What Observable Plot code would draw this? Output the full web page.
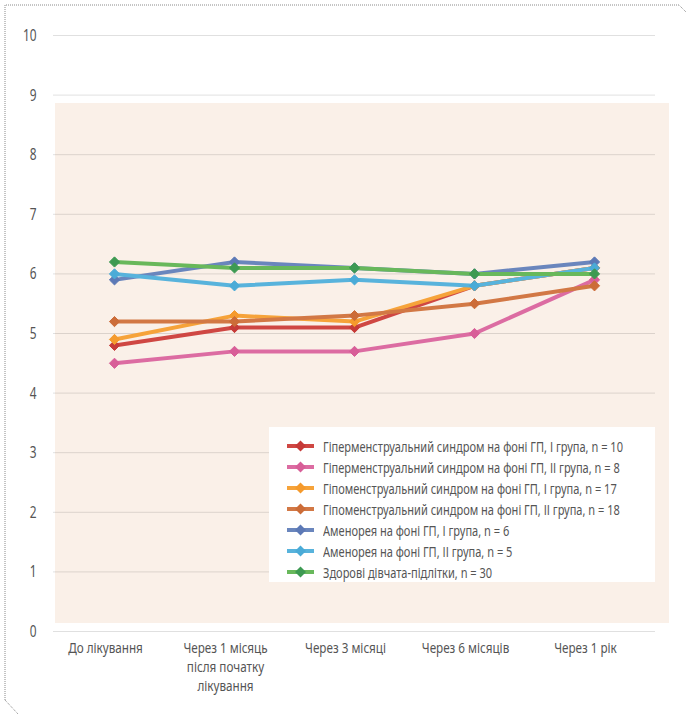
<!DOCTYPE html>
<html>
<head>
<meta charset="utf-8">
<script src="https://cdn.jsdelivr.net/npm/d3@7"></script>
<script src="https://cdn.jsdelivr.net/npm/@observablehq/plot@0.6"></script>
<style>
  html, body { margin: 0; padding: 0; background: #fff; }
  #wrap { position: relative; width: 686px; height: 714px; overflow: hidden;
          font-family: "Noto Sans", sans-serif; }
  #plotArea { position: absolute; left: 55px; top: 103px; width: 614px; height: 520px; background: #faf0e8; }
  #chart { position: absolute; left: 0; top: 0; }
  #frame { position: absolute; left: 0; top: 0; pointer-events: none; }
  #legend { position: absolute; left: 269px; top: 427px; width: 386px; height: 155px; background: #fff; }
  .row { position: absolute; left: 18px; height: 21px; display: flex; align-items: center;
         font-size: 14.5px; color: #555; white-space: nowrap; }
  .row svg { margin-right: 9px; flex: none; }
  .row span { display: inline-block; transform-origin: 0 50%; }
</style>
</head>
<body>
<div id="wrap">
  <div id="plotArea"></div>
  <div id="chart"></div>
  <div id="legend"></div>
  <svg id="frame" width="686" height="714">
    <path d="M5,700 V5 H679 L686,12 M5,700 L18,714" fill="none" stroke="#8a8a8a" stroke-width="1" stroke-dasharray="1,1"/>
  </svg>
</div>
<script>
// Time points of the observation
const categories = ["До лікування", "Через 1 місяць після початку лікування", "Через 3 місяці", "Через 6 місяців", "Через 1 рік"];
const tickLabels = ["До лікування", "Через 1 місяць\nпісля початку\nлікування", "Через 3 місяці", "Через 6 місяців", "Через 1 рік"];
const yTicks = [0, 1, 2, 3, 4, 5, 6, 7, 8, 9, 10];

// Groups of patients
const seriesNames = [
  "Гіперменструальний синдром на фоні ГП, І група, n = 10",
  "Гіперменструальний синдром на фоні ГП, ІІ група, n = 8",
  "Гіпоменструальний синдром на фоні ГП, І група, n = 17",
  "Гіпоменструальний синдром на фоні ГП, ІІ група, n = 18",
  "Аменорея на фоні ГП, І група, n = 6",
  "Аменорея на фоні ГП, ІІ група, n = 5",
  "Здорові дівчата-підлітки, n = 30"
];

// Values per group at each time point
const hyperI   = [4.8, 5.1, 5.1, 5.8, 6.1];
const hyperII  = [4.5, 4.7, 4.7, 5.0, 5.9];
const hypoI    = [4.9, 5.3, 5.2, 5.8, 6.1];
const hypoII   = [5.2, 5.2, 5.3, 5.5, 5.8];
const amenI    = [5.9, 6.2, 6.1, 6.0, 6.2];
const amenII   = [6.0, 5.8, 5.9, 5.8, 6.1];
const healthy  = [6.2, 6.1, 6.1, 6.0, 6.0];
const seriesValues = [hyperI, hyperII, hypoI, hypoII, amenI, amenII, healthy];

const lineColors   = ["#cf4743", "#dc6ca2", "#f6a33a", "#d27845", "#6a86bd", "#58b3dc", "#68b85b"];
const markerColors = ["#c63a38", "#d85e98", "#f59a2c", "#cc6c38", "#5c79b6", "#4aabd7", "#3d9a52"];

const rows = [];
seriesNames.forEach((name, s) => {
  seriesValues[s].forEach((v, i) => rows.push({series: name, idx: s, time: categories[i], value: v}));
});

const marks = [
  Plot.gridY({ticks: yTicks, stroke: "#000", strokeOpacity: 0.12, strokeWidth: 1}),
  Plot.axisY({ticks: yTicks, tickSize: 0, tickPadding: 17, label: null, fontSize: 17, tickFormat: d => String(d)}),
  Plot.axisX({tickSize: 0, tickPadding: 8, label: null, fontSize: 15, lineHeight: 1.27, dx: -9,
              tickFormat: d => tickLabels[categories.indexOf(d)]})
];
// Each group: its line, then its markers, in legend order
seriesNames.forEach((name, s) => {
  const data = rows.filter(r => r.idx === s);
  marks.push(Plot.line(data, {x: "time", y: "value", stroke: lineColors[s], strokeWidth: 4, strokeLinejoin: "round"}));
  marks.push(Plot.dot(data, {x: "time", y: "value", symbol: "diamond2", r: 4.6, fill: markerColors[s], stroke: markerColors[s], strokeWidth: 1}));
});

const chart = Plot.plot({
  width: 686,
  height: 714,
  marginLeft: 53,
  marginRight: 31,
  marginTop: 35,
  marginBottom: 83,
  style: {background: "transparent", color: "#555", fontFamily: "'Noto Sans', sans-serif"},
  x: {type: "point", domain: categories},
  y: {domain: [0, 10]},
  marks
});
document.getElementById("chart").appendChild(chart);

// Narrow the axis lettering horizontally (condensed look), keeping each anchor in place
function condense(selector, factor) {
  chart.querySelectorAll(selector).forEach(t => {
    const tr = t.getAttribute("transform") || "";
    t.setAttribute("transform", tr + ` scale(${factor},1)`);
  });
}
condense('g[aria-label="x-axis tick label"] text', 0.78);
condense('g[aria-label="y-axis tick label"] text', 0.7);

// Legend box inside the plot area
const legend = document.getElementById("legend");
const spans = [];
seriesNames.forEach((name, s) => {
  const row = document.createElement("div");
  row.className = "row";
  row.style.top = (8 + s * 21) + "px";
  row.innerHTML =
    `<svg width="27" height="12"><line x1="0" y1="6" x2="27" y2="6" stroke="${lineColors[s]}" stroke-width="4"/>` +
    `<path d="M13.5,0.5 L19,6 L13.5,11.5 L8,6 Z" fill="${markerColors[s]}"/></svg>` +
    `<span>${name}</span>`;
  legend.appendChild(row);
  spans.push(row.querySelector("span"));
});
// Fit the longest entry to the box width with a condensed look
const k = 300 / spans[0].getBoundingClientRect().width;
spans.forEach(sp => sp.style.transform = `scaleX(${k})`);
</script>
</body>
</html>
